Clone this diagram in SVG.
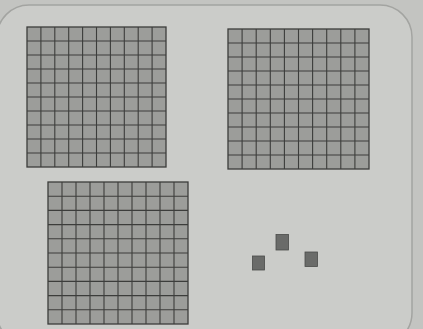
<svg xmlns="http://www.w3.org/2000/svg" width="423" height="329" viewBox="0 0 423 329">
<style>
.bg{fill:#c3c4c1}
.card{fill:#cbccc9;stroke:#a3a4a1;stroke-width:1.5}
.grid{fill:#9c9d9a;stroke:#3c3d3b;stroke-width:1.3}
.lines{fill:none;stroke:#3c3d3b;stroke-width:1.1}
.unit{fill:#6a6b69;stroke:#4a4b49;stroke-width:0.8}
</style>
<rect class="bg" x="0" y="0" width="423" height="329"/>
<rect class="card" x="-3" y="5" width="415" height="340" rx="32"/>
<g id="grid1">
<rect class="grid" x="27" y="27" width="139" height="140"/>
<path class="lines" d="M40.9 27V167M54.8 27V167M68.7 27V167M82.6 27V167M96.5 27V167M110.4 27V167M124.3 27V167M138.2 27V167M152.1 27V167M27 41H166M27 55H166M27 69H166M27 83H166M27 97H166M27 111H166M27 125H166M27 139H166M27 153H166"/>
</g>
<g id="grid2">
<rect class="grid" x="228" y="29" width="141" height="140"/>
<path class="lines" d="M242.1 29V169M256.2 29V169M270.3 29V169M284.4 29V169M298.5 29V169M312.6 29V169M326.7 29V169M340.8 29V169M354.9 29V169M228 43H369M228 57H369M228 71H369M228 85H369M228 99H369M228 113H369M228 127H369M228 141H369M228 155H369"/>
</g>
<g id="grid3">
<rect class="grid" x="48" y="182" width="140" height="142"/>
<path class="lines" d="M62 182V324M76 182V324M90 182V324M104 182V324M118 182V324M132 182V324M146 182V324M160 182V324M174 182V324M48 196.2H188M48 210.4H188M48 224.6H188M48 238.8H188M48 253H188M48 267.2H188M48 281.4H188M48 295.6H188M48 309.8H188"/>
</g>
<g id="unit1"><rect class="unit" x="252.5" y="256" width="12" height="14"/></g>
<g id="unit2"><rect class="unit" x="276" y="234.5" width="12.5" height="15.5"/></g>
<g id="unit3"><rect class="unit" x="305" y="252" width="12.5" height="14.5"/></g>
</svg>
